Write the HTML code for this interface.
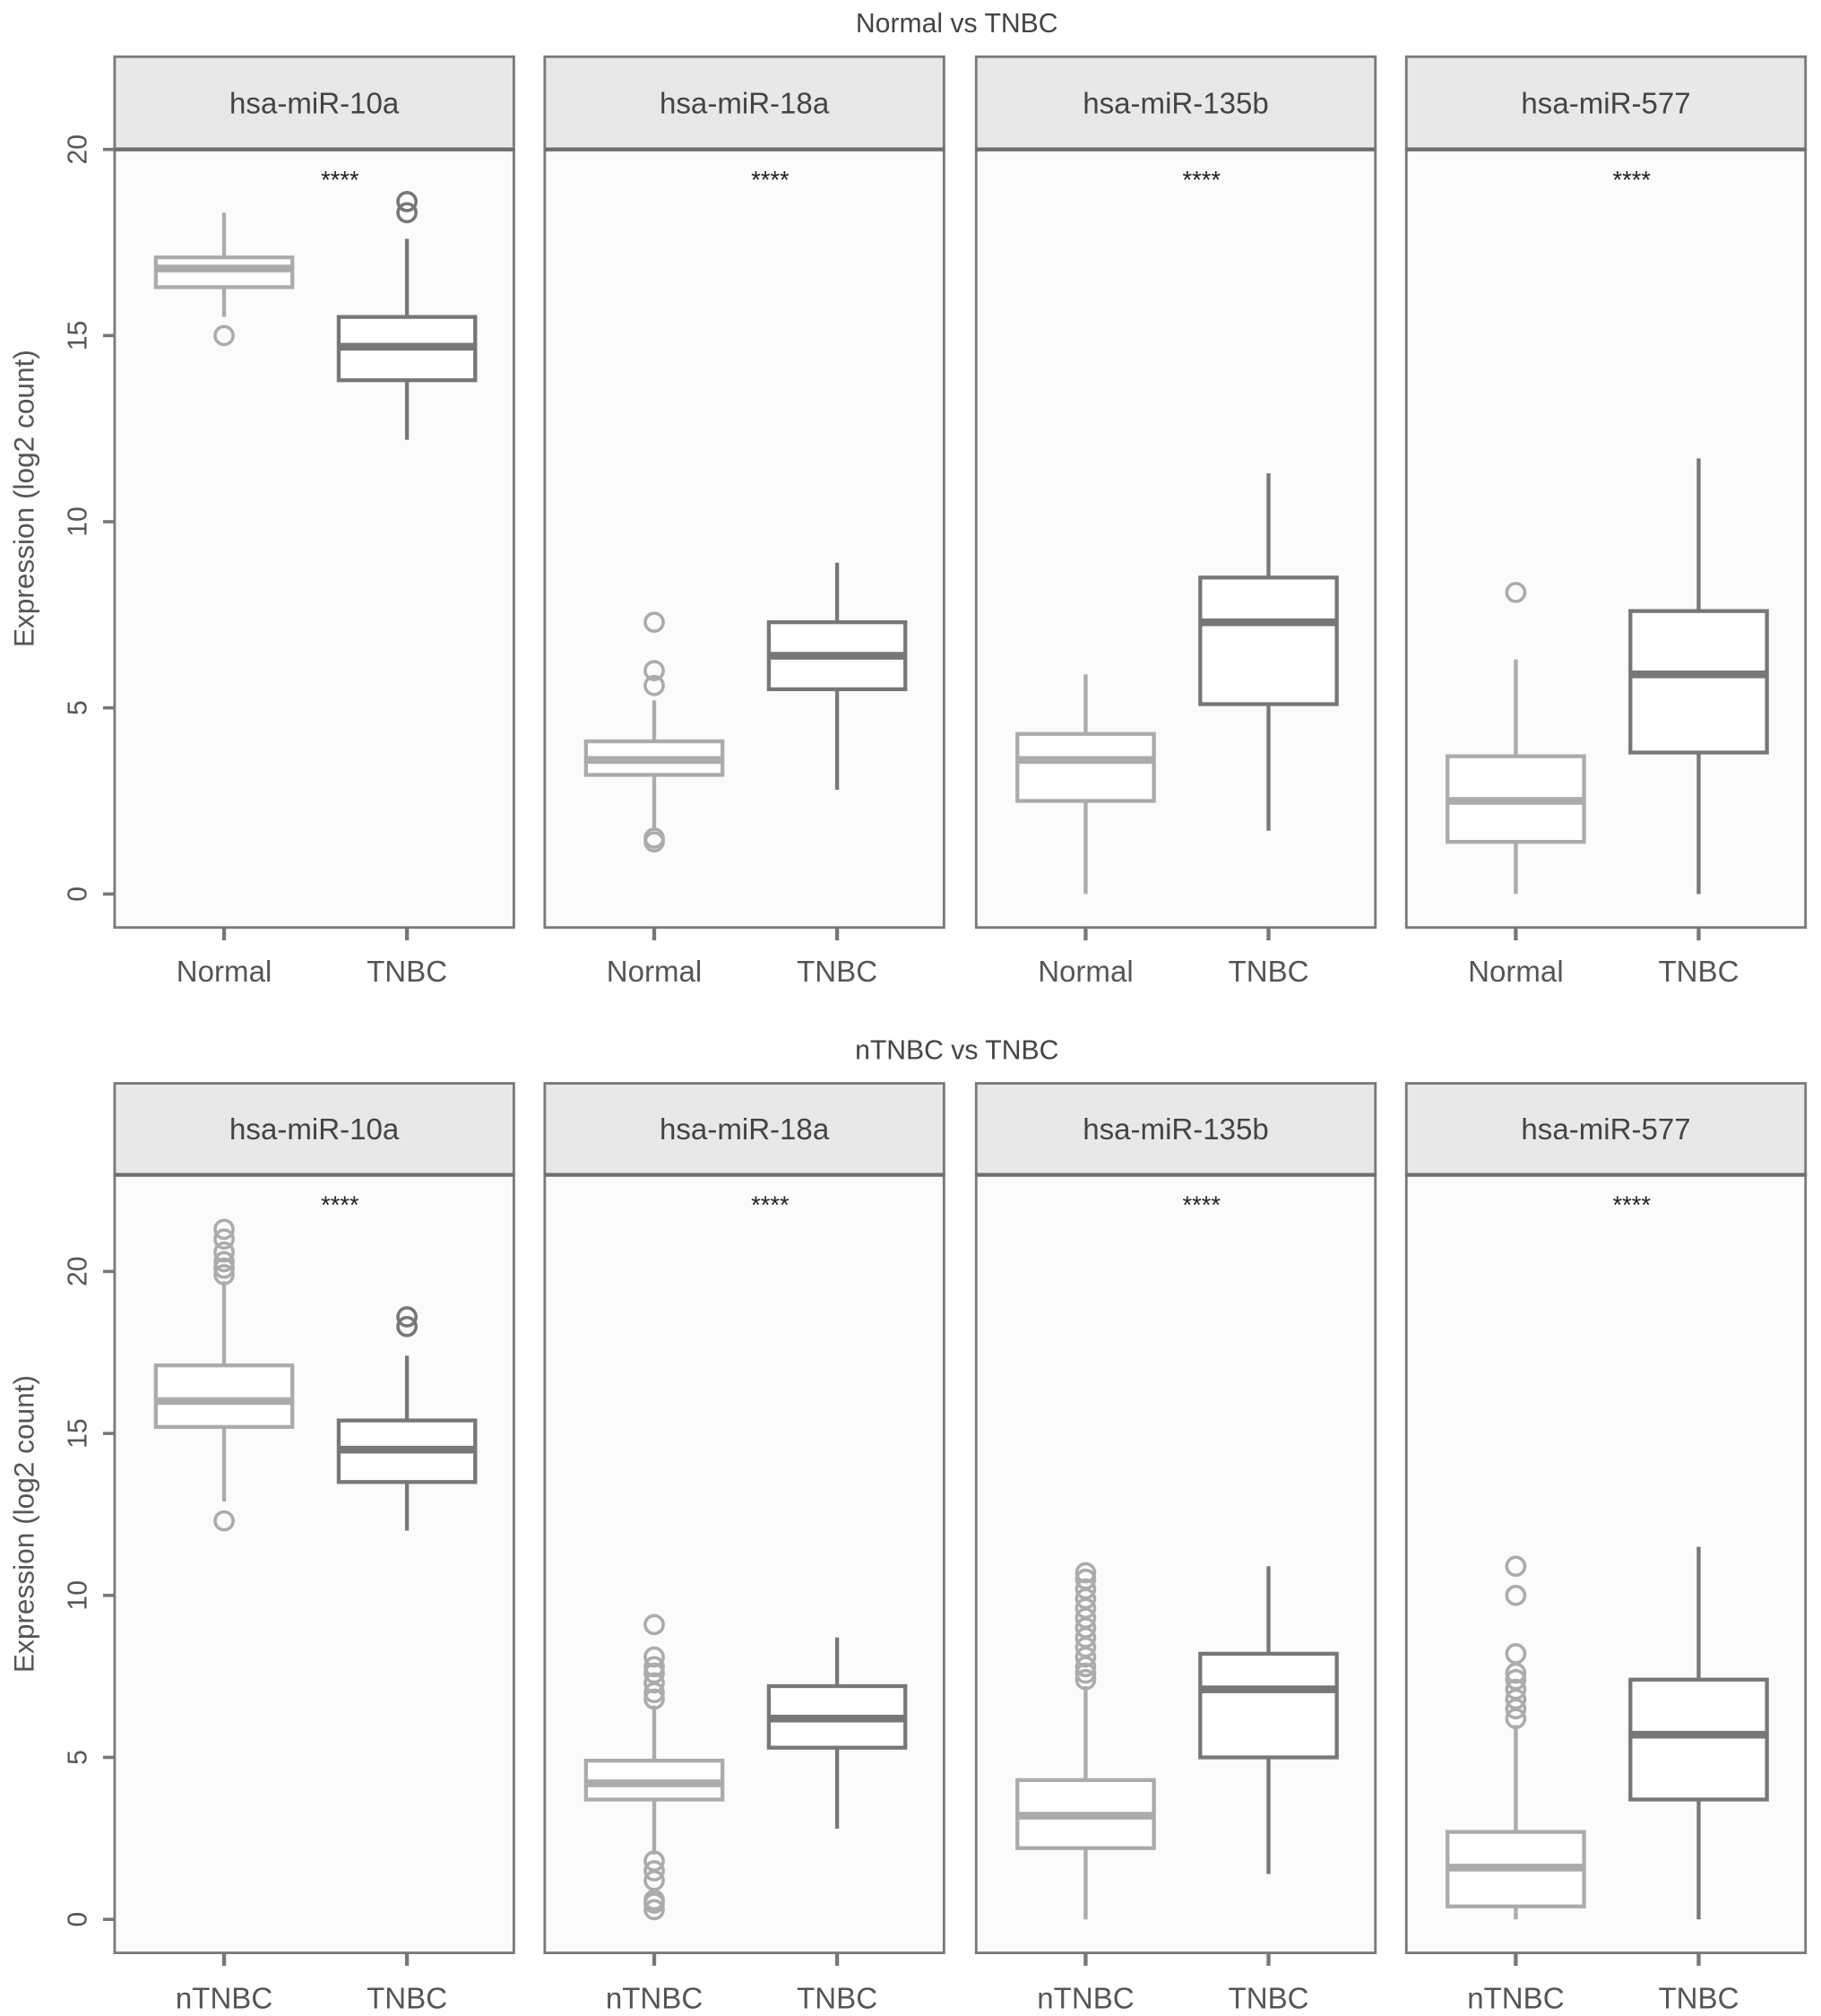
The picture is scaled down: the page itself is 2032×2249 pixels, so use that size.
<!DOCTYPE html>
<html><head><meta charset="utf-8">
<style>
html,body{margin:0;padding:0;background:#fff;}
svg{display:block;font-family:"Liberation Sans",Arial,sans-serif;}
</style></head>
<body>
<svg id="chart" width="2032" height="2249" viewBox="0 0 1414 1565" xmlns="http://www.w3.org/2000/svg"></svg>
<script>
const genes = ["hsa-miR-10a","hsa-miR-18a","hsa-miR-135b","hsa-miR-577"];
const rowTitles = ["Normal vs TNBC","nTNBC vs TNBC"];
const rowGroups = [["Normal","TNBC"],["nTNBC","TNBC"]];
const yTicks = [0,5,10,15,20];
// [lo, q1, med, q3, hi] per gene; group A then group B
const top_A = [[15.5,16.3,16.8,17.1,18.3],[1.7,3.2,3.6,4.1,5.2],[0,2.5,3.6,4.3,5.9],[0,1.4,2.5,3.7,6.3]];
const top_B = [[12.2,13.8,14.7,15.5,17.6],[2.8,5.5,6.4,7.3,8.9],[1.7,5.1,7.3,8.5,11.3],[0,3.8,5.9,7.6,11.7]];
const top_A_out = [[15.0],[1.4,1.5,5.6,6.0,7.3],[],[8.1]];
const top_B_out = [[18.3,18.6],[],[],[]];
const bot_A = [[12.9,15.2,16.0,17.1,19.7],[2.0,3.7,4.2,4.9,6.6],[0,2.2,3.2,4.3,7.2],[0,0.4,1.6,2.7,6.0]];
const bot_B = [[12.0,13.5,14.5,15.4,17.4],[2.8,5.3,6.2,7.2,8.7],[1.4,5.0,7.1,8.2,10.9],[0,3.7,5.7,7.4,11.5]];
const bot_A_out = [[12.3,19.9,20.1,20.3,20.6,21.0,21.3],[0.3,0.5,0.6,1.2,1.5,1.8,6.8,7.0,7.3,7.6,7.8,8.1,9.1],[7.4,7.6,7.8,8.1,8.4,8.7,9.0,9.3,9.6,9.9,10.2,10.5,10.7],[6.2,6.5,6.8,7.1,7.4,7.6,8.2,10.0,10.9]];
const bot_B_out = [[18.3,18.6],[],[],[]];

const svg = document.getElementById('chart');
const NS = "http://www.w3.org/2000/svg";
function mk(tag, attrs, parent){const e=document.createElementNS(NS,tag);for(const k in attrs)e.setAttribute(k,attrs[k]);(parent||svg).appendChild(e);return e;}

const panelLefts=[89,423,758,1092], panelW=310;
const rows=[
 {title:18,stripTop:44,stripBot:116,y0:694,y20:116,bottom:720,lab:762,A:top_A,B:top_B,Ao:top_A_out,Bo:top_B_out,yTitle:387},
 {title:815,stripTop:841,stripBot:912,y0:1490,y20:987,bottom:1516,lab:1559,A:bot_A,B:bot_B,Ao:bot_A_out,Bo:bot_B_out,yTitle:1183}
];
const colA="#ababab", colB="#777777";

rows.forEach((r,ri)=>{
  const ys=v=>r.y0-(r.y0-r.y20)*v/20;
  const t=mk('text',{x:743,y:r.title+7,'text-anchor':'middle','font-size':21,fill:'#444'});
  t.textContent=rowTitles[ri];
  
  
  const yt=mk('text',{transform:`translate(26,${r.yTitle}) rotate(-90)`,'text-anchor':'middle','font-size':22,fill:'#555'});
  yt.textContent="Expression (log2 count)";
  
  
  yTicks.forEach(v=>{
    const y=ys(v);
    const tl=mk('line',{x1:80,x2:89,y1:y,y2:y,stroke:'#777','stroke-width':2.5});
    
    
    const tx=mk('text',{transform:`translate(67,${y}) rotate(-90)`,'text-anchor':'middle','font-size':21,fill:'#555'});
    tx.textContent=v;
    
    
  });
  panelLefts.forEach((pl,gi)=>{
    const g=mk('g',{});
    
    
    mk('rect',{x:pl,y:r.stripBot,width:panelW,height:r.bottom-r.stripBot,fill:'#fbfbfb',stroke:'#7a7a7a','stroke-width':2},g);
    const st=mk('rect',{x:pl,y:r.stripTop,width:panelW,height:r.stripBot-r.stripTop,fill:'#e8e8e8',stroke:'#7a7a7a','stroke-width':2},g);
    
    
    mk('line',{x1:pl,x2:pl+panelW,y1:r.stripBot,y2:r.stripBot,stroke:'#6e6e6e','stroke-width':3},g);
    const sl=mk('text',{x:pl+panelW/2,y:(r.stripTop+r.stripBot)/2+8,'text-anchor':'middle','font-size':23,fill:'#444'},g);
    sl.textContent=genes[gi];
    
    
    const sig=mk('text',{x:pl+175,y:r.stripBot+30,'text-anchor':'middle','font-size':19,fill:'#222'},g);
    sig.textContent="****";
    
    
    const xs=[pl+85,pl+227];
    [[r.A[gi],r.Ao[gi],colA],[r.B[gi],r.Bo[gi],colB]].forEach(([st5,outs,c],k)=>{
      const cx=xs[k], hw=53;
      const tk=mk('line',{x1:cx,x2:cx,y1:r.bottom,y2:r.bottom+10,stroke:'#777','stroke-width':3},g);
      
      
      const xl=mk('text',{x:cx,y:r.lab,'text-anchor':'middle','font-size':23,fill:'#555'},g);
      xl.textContent=rowGroups[ri][k];
      
      
      const bg=mk('g',{},g);
      
      
      mk('line',{x1:cx,x2:cx,y1:ys(st5[0]),y2:ys(st5[1]),stroke:c,'stroke-width':3},bg);
      mk('line',{x1:cx,x2:cx,y1:ys(st5[3]),y2:ys(st5[4]),stroke:c,'stroke-width':3},bg);
      mk('rect',{x:cx-hw,y:ys(st5[3]),width:2*hw,height:ys(st5[1])-ys(st5[3]),fill:'#fff',stroke:c,'stroke-width':3},bg);
      mk('line',{x1:cx-hw,x2:cx+hw,y1:ys(st5[2]),y2:ys(st5[2]),stroke:c,'stroke-width':6},bg);
      outs.forEach(o=>{
        const p=mk('circle',{cx:cx,cy:ys(o),r:7,fill:'none',stroke:c,'stroke-width':2.5},bg);
        
        
      });
    });
  });
});
</script>
</body></html>
